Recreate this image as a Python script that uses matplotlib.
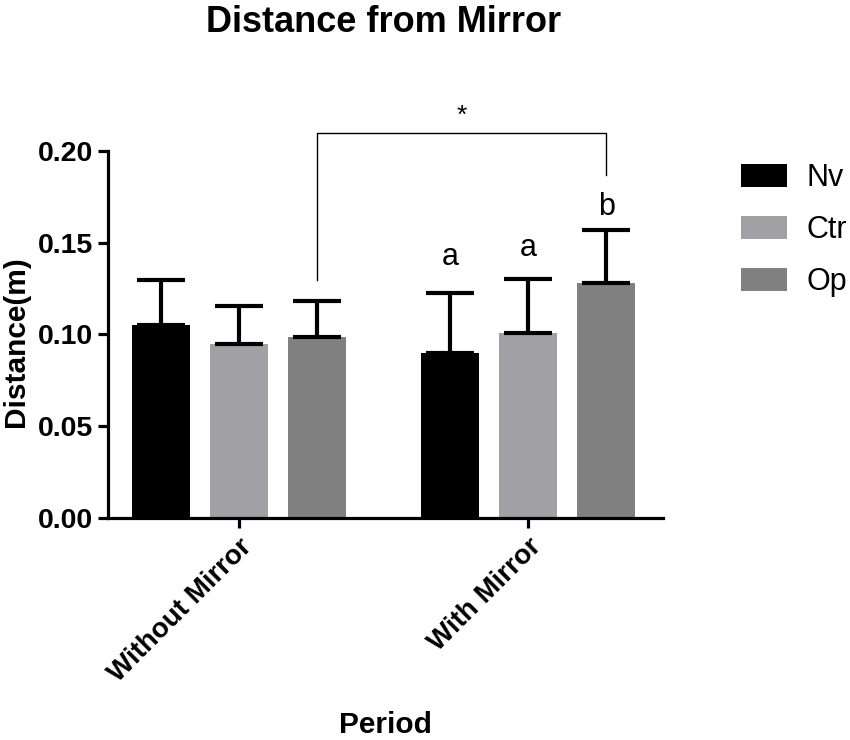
import numpy as np
import matplotlib.pyplot as plt
from matplotlib.patches import Patch

plt.rcParams['font.family'] = ['Liberation Sans', 'DejaVu Sans']

periods = ['Without Mirror', 'With Mirror']
groups = ['Nv', 'Ctr', 'Op']
colors = ['#000000', '#a1a1a5', '#808080']
means = {'Nv': [0.105, 0.090],
         'Ctr': [0.095, 0.101],
         'Op': [0.0985, 0.128]}
sems = {'Nv': [0.0245, 0.0325],
        'Ctr': [0.0205, 0.029],
        'Op': [0.0195, 0.029]}
letters = ['a', 'a', 'b']

fig = plt.figure(figsize=(8.5, 7.4), dpi=100)
ax = fig.add_axes([0.1274, 0.2996, 0.7796 - 0.1274, 0.7964 - 0.2996])

x = np.arange(len(periods))
offsets = [-0.27, 0, 0.27]
width = 0.2
for g, off, c in zip(groups, offsets, colors):
    ax.bar(x + off, means[g], width, color=c, zorder=2)
    ax.errorbar(x + off, means[g], yerr=[np.zeros(2), sems[g]], fmt='none',
                ecolor='black', elinewidth=3, capsize=17, capthick=3, zorder=3)

# letters above "With Mirror" bars
letter_y = [0.1423, 0.147, 0.1695]
for off, lt, ly in zip(offsets, letters, letter_y):
    ax.text(1 + off, ly, lt, ha='center', va='center', fontsize=22)

# significance bracket
yb = 0.2095
ax.plot([0.27, 0.27, 1.27, 1.27], [0.1297, yb, yb, 0.1868], color='black',
        lw=1, clip_on=False)
ax.text(0.77, yb + 0.003, '*', ha='center', va='bottom', fontsize=19)

ax.set_xlim(-0.452, 1.465)
ax.set_ylim(0, 0.20)
ax.set_yticks([0, 0.05, 0.10, 0.15, 0.20])
ax.set_yticklabels(['0.00', '0.05', '0.10', '0.15', '0.20'],
                   fontsize=20.5, fontweight='bold')
ax.set_xticks(x)
ax.set_xticklabels(periods, rotation=45, ha='right', rotation_mode='anchor',
                   fontsize=20, fontweight='bold')
ax.tick_params(axis='both', width=2.3, length=7, pad=4)
for s in ['top', 'right']:
    ax.spines[s].set_visible(False)
for s in ['left', 'bottom']:
    ax.spines[s].set_linewidth(2.3)

ax.set_ylabel('Distance(m)', fontsize=21.5, fontweight='bold')
ax.yaxis.set_label_coords(-0.142, 0.48)
fig.text(385 / 850, 1 - 725 / 740, 'Period', ha='center', va='center',
         fontsize=21.5, fontweight='bold')
fig.text(384 / 850, 1 - 22 / 740, 'Distance from Mirror', ha='center',
         va='center', fontsize=26, fontweight='bold')

handles = [Patch(facecolor=c) for c in colors]
fig.legend(handles, groups, loc='upper left',
           bbox_to_anchor=(741 / 850, 1 - 163 / 740), frameon=False,
           fontsize=22, handlelength=1.5, handleheight=0.8,
           handletextpad=0.65, labelspacing=0.72, borderpad=0,
           borderaxespad=0)

fig.savefig('out.png', dpi=100)
